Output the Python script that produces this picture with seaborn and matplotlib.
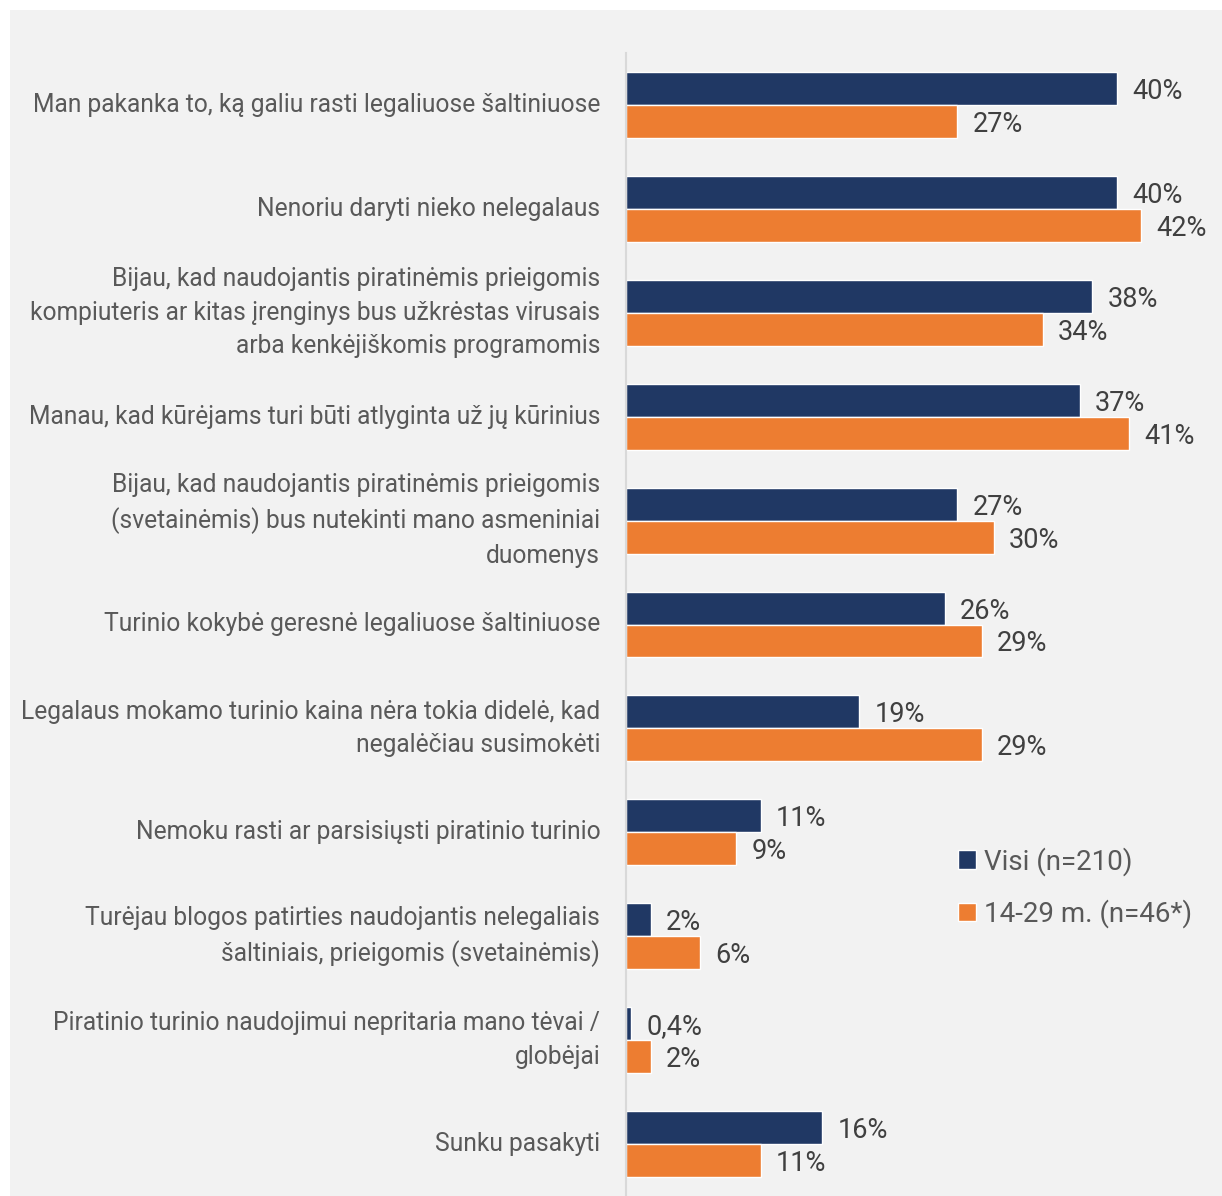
import matplotlib
matplotlib.use("Agg")
import matplotlib.pyplot as plt
import seaborn as sns
import pandas as pd
from matplotlib.patches import Rectangle

categories = [
    "Man pakanka to, ką galiu rasti legaliuose šaltiniuose",
    "Nenoriu daryti nieko nelegalaus",
    "Bijau, kad naudojantis piratinėmis prieigomis\nkompiuteris ar kitas įrenginys bus užkrėstas virusais\narba kenkėjiškomis programomis",
    "Manau, kad kūrėjams turi būti atlyginta už jų kūrinius",
    "Bijau, kad naudojantis piratinėmis prieigomis\n(svetainėmis) bus nutekinti mano asmeniniai\nduomenys",
    "Turinio kokybė geresnė legaliuose šaltiniuose",
    "Legalaus mokamo turinio kaina nėra tokia didelė, kad\nnegalėčiau susimokėti",
    "Nemoku rasti ar parsisiųsti piratinio turinio",
    "Turėjau blogos patirties naudojantis nelegaliais\nšaltiniais, prieigomis (svetainėmis)",
    "Piratinio turinio naudojimui nepritaria mano tėvai /\nglobėjai",
    "Sunku pasakyti",
]
series_names = ["Visi (n=210)", "14-29 m. (n=46*)"]
visi = [40, 40, 38, 37, 27, 26, 19, 11, 2, 0.4, 16]
jauni = [27, 42, 34, 41, 30, 29, 29, 9, 6, 2, 11]
colors = ["#203864", "#ed7d31"]

df = pd.DataFrame({
    "kategorija": categories * 2,
    "grupe": [series_names[0]] * len(visi) + [series_names[1]] * len(jauni),
    "reiksme": visi + jauni,
})

sns.set_style("white")
plt.rcParams["font.family"] = ["Roboto", "DejaVu Sans"]

fig = plt.figure(figsize=(12.22, 11.96), dpi=100)
# grey panel behind the chart
fig.patches.append(Rectangle((10 / 1222, 0), 1, 1 - 10 / 1196, transform=fig.transFigure,
                             facecolor="#f2f2f2", edgecolor="none", zorder=-10))

ax = fig.add_axes([626 / 1222, 0, (1222 - 626) / 1222, 1 - 53 / 1196])
ax.set_facecolor("none")

sns.barplot(data=df, x="reiksme", y="kategorija", hue="grupe", orient="h",
            palette=colors, width=0.635, ax=ax, saturation=1)

for cont in ax.containers:
    labels = [f"{v:g}%".replace(".", ",") for v in cont.datavalues]
    texts = ax.bar_label(cont, labels=labels, padding=11, fontsize=19.5, color="#404040")
    for t in texts:
        t.set_verticalalignment("center_baseline")

ax.set_xlim(0, 48.6)
ax.set_ylim(len(categories) - 0.5, -0.5)
ax.set_xlabel("")
ax.set_ylabel("")
ax.set_xticks([])
ax.tick_params(axis="y", length=0, pad=18.5)
for lab in ax.get_yticklabels():
    lab.set_fontsize(17.7)
    lab.set_color("#595959")
    lab.set_linespacing(1.5)
    lab.set_horizontalalignment("right")
    lab.set_verticalalignment("center")

for s in ["top", "right", "bottom"]:
    ax.spines[s].set_visible(False)
ax.spines["left"].set_color("#d9d9d9")
ax.spines["left"].set_linewidth(1.5)

leg = ax.legend(loc="center left", bbox_to_anchor=(0.515, 0.27), frameon=False,
                fontsize=20, handlelength=0.65, handleheight=0.65, handletextpad=0.3,
                labelspacing=0.85, labelcolor="#595959")

fig.savefig("out.png", dpi=100)
